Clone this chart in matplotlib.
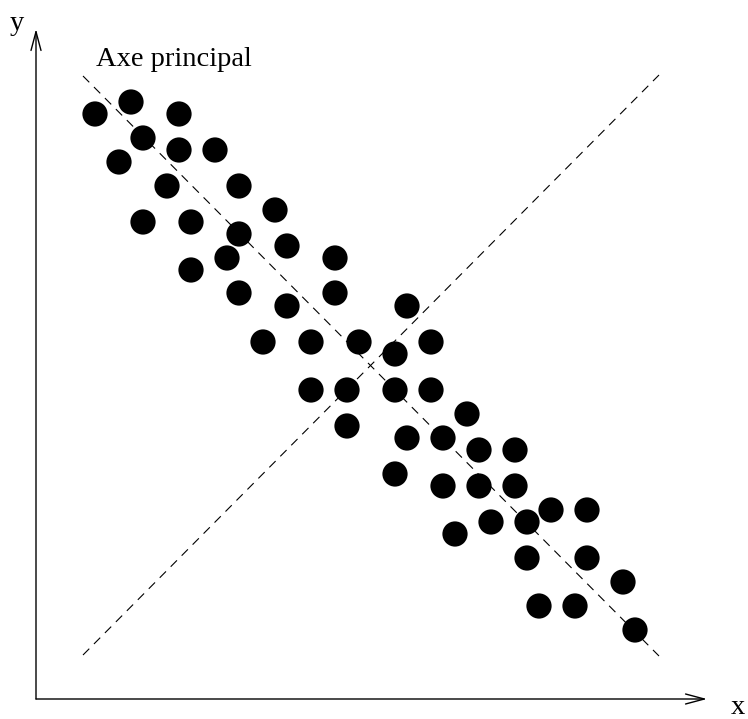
import matplotlib
matplotlib.use("Agg")
import matplotlib.pyplot as plt

# Point cloud (in picture units: x to the right, y downward)
x_vals = [95, 131, 179, 143, 179, 215, 119, 167, 239, 275, 143, 191, 239, 287,
          335, 191, 227, 239, 287, 335, 407, 263, 311, 359, 431, 395, 311, 347,
          395, 431, 347, 467, 407, 443, 479, 515, 395, 443, 479, 515, 551, 587,
          491, 527, 455, 527, 587, 623, 539, 575, 635]
y_vals = [114, 102, 114, 138, 150, 150, 162, 186, 186, 210, 222, 222, 234, 246,
          258, 270, 258, 293, 306, 293, 306, 342, 342, 342, 342, 354, 390, 390,
          390, 390, 426, 414, 438, 438, 450, 450, 474, 486, 486, 486, 510, 510,
          522, 522, 534, 558, 558, 582, 606, 606, 630]

principal_axis = ([83, 659], [76, 656])
second_axis = ([83, 659], [655, 75])
origin = (36, 699)
x_end = (707, 699)
y_end = (36, 29)
axis_labels = {"x": (738, 708), "y": (17, 23)}
title_text = "Axe principal"
title_pos = (96, 59)

fig = plt.figure(figsize=(7.48, 7.19), dpi=100)
ax = fig.add_axes([0, 0, 1, 1])
ax.set_xlim(0, 748)
ax.set_ylim(719, 0)
ax.axis("off")

ax.plot(*principal_axis, color="black", lw=0.8, dashes=(8, 6))
ax.plot(*second_axis, color="black", lw=0.8, dashes=(8, 6))

ax.scatter(x_vals, y_vals, s=330, color="black", edgecolors="none", zorder=3)

arrowprops = dict(arrowstyle="->,head_length=1.35,head_width=0.36",
                  color="black", lw=1.0, shrinkA=0, shrinkB=0)
ax.annotate("", xy=x_end, xytext=origin, arrowprops=arrowprops)
ax.annotate("", xy=y_end, xytext=origin, arrowprops=arrowprops)

font = ["Liberation Serif", "DejaVu Serif"]
ax.text(*axis_labels["x"], "x", family=font, fontsize=20.5, ha="center", va="center")
ax.text(*axis_labels["y"], "y", family=font, fontsize=20.5, ha="center", va="center")
ax.text(*title_pos, title_text, family=font, fontsize=20.5, ha="left", va="center")

fig.savefig("out.png", dpi=100)
